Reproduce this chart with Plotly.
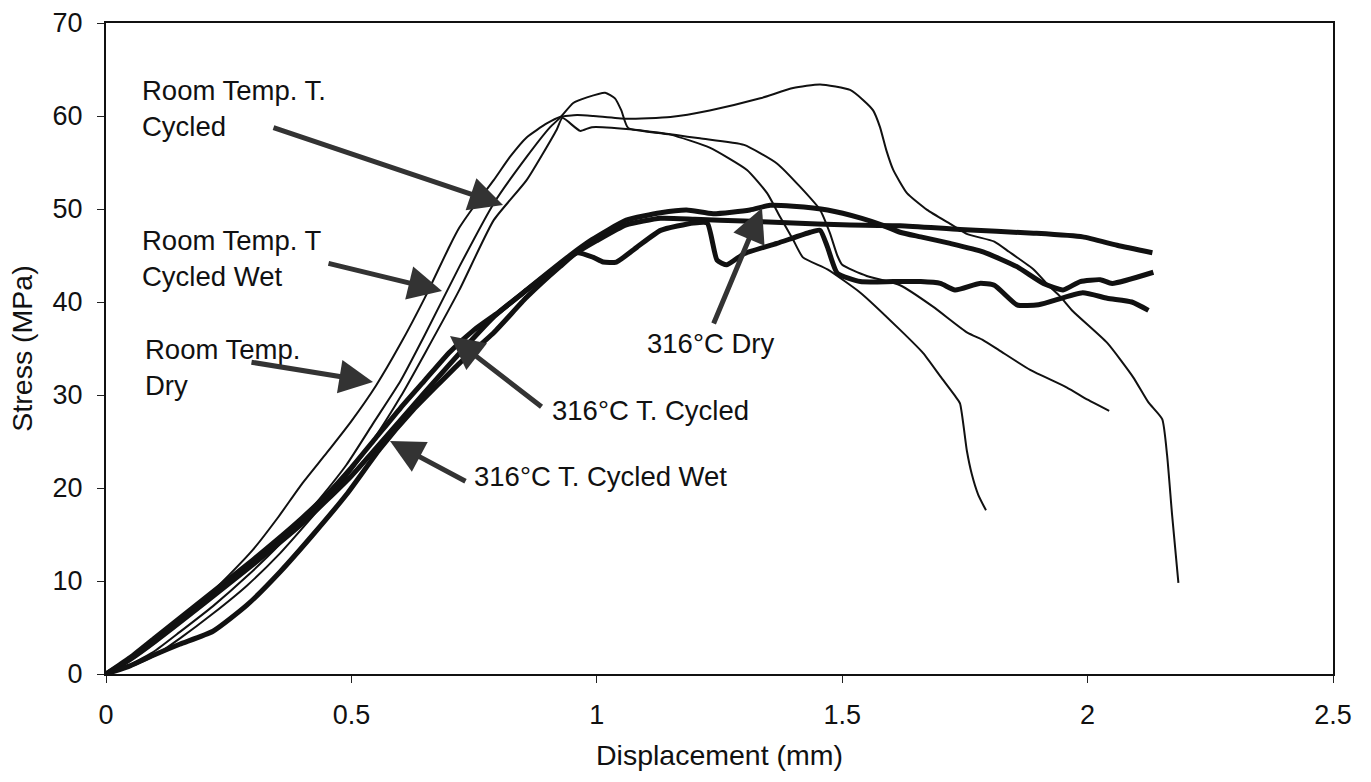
import plotly.graph_objects as go

# ---------------- data ----------------
rt_dry_x = [0, 0.05, 0.1, 0.15, 0.2, 0.25, 0.3, 0.35, 0.4, 0.45, 0.5, 0.55, 0.6, 0.65, 0.7, 0.72, 0.75,
            0.79, 0.823, 0.857, 0.898, 0.925, 0.96, 0.993, 1.06, 1.15, 1.23, 1.333, 1.40, 1.455, 1.516,
            1.543, 1.563, 1.577, 1.59, 1.604, 1.632, 1.673, 1.72, 1.755, 1.81, 1.84, 1.89, 1.92, 1.944,
            1.97, 2.04, 2.093, 2.124, 2.152, 2.162, 2.172, 2.185]
rt_dry_y = [0, 1.5, 3.4, 5.6, 8.0, 10.6, 13.4, 16.8, 20.5, 23.8, 27.2, 31.0, 35.5, 40.5, 46.0, 48.0, 50.3,
            53.1, 55.6, 57.7, 59.2, 59.9, 60.1, 60.0, 59.7, 59.9, 60.6, 61.9, 63.0, 63.4, 62.8,
            61.7, 60.6, 58.8, 56.3, 54.2, 51.7, 49.9, 48.4, 47.3, 46.5, 45.4, 43.5, 41.8, 40.6,
            39.0, 35.6, 31.9, 29.2, 27.4, 23.5, 17.2, 9.8]

rt_tc_x = [0, 0.05, 0.1, 0.15, 0.218, 0.287, 0.355, 0.422, 0.49, 0.545, 0.6, 0.65, 0.72, 0.79, 0.857,
           0.905, 0.925, 0.952, 0.98, 1.017, 1.037, 1.05, 1.064, 1.15, 1.23, 1.306, 1.347, 1.373, 1.40,
           1.42, 1.47, 1.537, 1.618, 1.665, 1.70, 1.73, 1.74, 1.754, 1.764, 1.777, 1.793]
rt_tc_y = [0, 1.0, 2.5, 4.5, 7.3, 10.5, 14.0, 18.0, 22.5, 27.0, 31.5, 36.5, 43.8, 50.6, 55.6,
           58.8, 59.8, 61.4, 62.0, 62.5, 61.9, 60.6, 58.7, 58.0, 56.6, 54.2, 51.7, 49.2, 46.7,
           44.8, 43.5, 41.0, 37.0, 34.5, 32.0, 29.9, 29.1, 24.0, 21.5, 19.3, 17.6]

rt_wet_x = [0, 0.05, 0.1, 0.15, 0.218, 0.287, 0.355, 0.422, 0.49, 0.545, 0.6, 0.65, 0.72, 0.79, 0.857,
            0.918, 0.93, 0.966, 0.99, 1.082, 1.21, 1.30, 1.367, 1.414, 1.455, 1.475, 1.49, 1.50, 1.55,
            1.618, 1.685, 1.755, 1.787, 1.82, 1.883, 1.958, 2.0, 2.044]
rt_wet_y = [0, 0.8, 2.0, 3.8, 6.5, 9.5, 13.0, 17.0, 21.2, 25.2, 29.8, 34.5, 41.3, 48.8, 53.1,
            58.5, 59.8, 58.4, 58.8, 58.5, 57.6, 56.9, 54.9, 52.4, 49.9, 47.4, 45.0, 44.0, 42.8,
            41.8, 39.5, 36.7, 35.9, 34.8, 32.7, 30.8, 29.5, 28.3]

ht_tc_x = [0, 0.05, 0.1, 0.15, 0.2, 0.25, 0.3, 0.35, 0.4, 0.45, 0.5, 0.55, 0.6, 0.65, 0.7, 0.75, 0.8,
           0.86, 0.95, 1.0, 1.06, 1.13, 1.2, 1.3, 1.4, 1.5, 1.618, 1.74, 1.89, 1.99, 2.06, 2.132]
ht_tc_y = [0, 1.8, 3.9, 6.0, 8.1, 10.2, 12.3, 14.5, 16.8, 19.3, 22.2, 25.4, 28.6, 31.6, 34.6, 37.0, 38.9,
           41.4, 45.0, 46.6, 48.3, 49.0, 48.9, 48.7, 48.5, 48.3, 48.2, 47.8, 47.4, 47.0, 46.1, 45.3]

ht_dry_x = [0, 0.05, 0.1, 0.2, 0.3, 0.4, 0.5, 0.6, 0.7, 0.79, 0.857, 0.945, 0.99, 1.06, 1.13, 1.183,
            1.237, 1.312, 1.353, 1.40, 1.47, 1.54, 1.58, 1.618, 1.66, 1.72, 1.787, 1.856, 1.91, 1.95,
            1.985, 2.026, 2.05, 2.134]
ht_dry_y = [0, 1.6, 3.5, 7.6, 11.8, 16.2, 21.3, 27.3, 33.3, 38.4, 41.3, 45.0, 46.7, 48.8, 49.6, 49.9,
            49.5, 49.9, 50.4, 50.3, 49.9, 49.0, 48.3, 47.5, 47.0, 46.3, 45.4, 43.8, 42.0, 41.3,
            42.2, 42.4, 42.0, 43.2]

ht_wet_x = [0, 0.05, 0.1, 0.15, 0.218, 0.287, 0.355, 0.422, 0.49, 0.558, 0.626, 0.68, 0.72, 0.79, 0.857,
            0.925, 0.96, 0.993, 1.013, 1.04, 1.082, 1.13, 1.197, 1.225, 1.245, 1.265, 1.30, 1.367,
            1.435, 1.455, 1.47, 1.49, 1.537, 1.604, 1.66, 1.70, 1.73, 1.78, 1.81, 1.856, 1.90, 1.99,
            2.04, 2.09, 2.124]
ht_wet_y = [0, 0.9, 2.1, 3.2, 4.6, 7.4, 11.0, 15.0, 19.3, 24.2, 28.4, 31.3, 33.4, 36.7, 40.5,
            43.8, 45.3, 44.8, 44.3, 44.3, 45.9, 47.7, 48.5, 48.5, 44.5, 44.0, 45.2, 46.3,
            47.5, 47.7, 45.9, 43.1, 42.2, 42.2, 42.2, 42.0, 41.3, 42.0, 41.8, 39.7, 39.7, 41.0,
            40.4, 40.0, 39.1]

x_ticks = [0, 0.5, 1, 1.5, 2, 2.5]
x_tick_text = ["0", "0.5", "1", "1.5", "2", "2.5"]
y_ticks = [0, 10, 20, 30, 40, 50, 60, 70]

label_texts = ["Room Temp. T.<br>Cycled", "Room Temp. T<br>Cycled Wet", "Room Temp.<br>Dry",
               "316°C T. Cycled", "316°C T. Cycled Wet", "316°C Dry"]

# ---------------- layout geometry (pixels) ----------------
W, H = 1371, 782
L, R, T, B = 106, 38, 23, 108
XMAX, YMAX = 2.5, 70.0
pw, ph = W - L - R, H - T - B


def px2x(px):
    return (px - L) / pw * XMAX


def py2y(py):
    return (H - B - py) / ph * YMAX


FONT = "Arial, 'Liberation Sans', sans-serif"
THIN, THICK = 2, 5
INK = "#111111"

fig = go.Figure()
series = [
    (rt_dry_x, rt_dry_y, THIN, "Room Temp. Dry"),
    (rt_tc_x, rt_tc_y, THIN, "Room Temp. T. Cycled"),
    (rt_wet_x, rt_wet_y, THIN, "Room Temp. T Cycled Wet"),
    (ht_tc_x, ht_tc_y, THICK, "316°C T. Cycled"),
    (ht_dry_x, ht_dry_y, THICK, "316°C Dry"),
    (ht_wet_x, ht_wet_y, THICK, "316°C T. Cycled Wet"),
]
for xs, ys, w, nm in series:
    fig.add_trace(go.Scatter(x=xs, y=ys, mode="lines", name=nm,
                             line=dict(color=INK, width=w, shape="spline", smoothing=0.5)))

# text labels: (left px, top px)
text_pos = [(140, 73), (140, 223), (143, 332), (550, 393), (472, 459), (645, 326)]
annotations = []
for txt, (lx, ty) in zip(label_texts, text_pos):
    annotations.append(dict(x=px2x(lx), y=py2y(ty), xref="x", yref="y", text=txt,
                            showarrow=False, xanchor="left", yanchor="top", align="left",
                            font=dict(family=FONT, size=27.5, color="#111")))

# arrows: (tail px, tip px)
arrows = [((272, 127), (503, 205)), ((327, 263), (442, 291)), ((250, 362), (373, 382)),
          ((543, 408), (450, 336)), ((467, 482), (390, 441)), ((713, 325), (762, 208))]
for (tx, ty), (hx, hy) in arrows:
    annotations.append(dict(x=px2x(hx), y=py2y(hy), xref="x", yref="y", ax=tx - hx, ay=ty - hy,
                            axref="pixel", ayref="pixel", text="", showarrow=True,
                            arrowhead=2, arrowsize=1.35, arrowwidth=5, arrowcolor="#333",
                            standoff=0, startstandoff=0))

fig.update_layout(
    width=W, height=H, margin=dict(l=L, r=R, t=T, b=B, autoexpand=False),
    paper_bgcolor="white", plot_bgcolor="white", showlegend=False,
    font=dict(family=FONT, size=27, color="#111"),
    annotations=annotations,
    xaxis=dict(range=[0, XMAX], tickvals=x_ticks, ticktext=x_tick_text, ticks="outside", ticklen=7,
               tickwidth=1, tickcolor="#222", showline=True, linecolor="#111", linewidth=2, mirror=True,
               showgrid=False, zeroline=False, ticklabelstandoff=9, tickfont=dict(size=27),
               title=dict(text="Displacement (mm)", standoff=16, font=dict(size=28.5))),
    yaxis=dict(range=[0, YMAX], tickvals=y_ticks, ticks="outside", ticklen=7, tickwidth=1,
               tickcolor="#222", showline=True, linecolor="#111", linewidth=2, mirror=True,
               showgrid=False, zeroline=False, ticklabelstandoff=9, tickfont=dict(size=27),
               title=dict(text="Stress (MPa)", standoff=12, font=dict(size=28.5))),
)

fig.write_html("out.html")
